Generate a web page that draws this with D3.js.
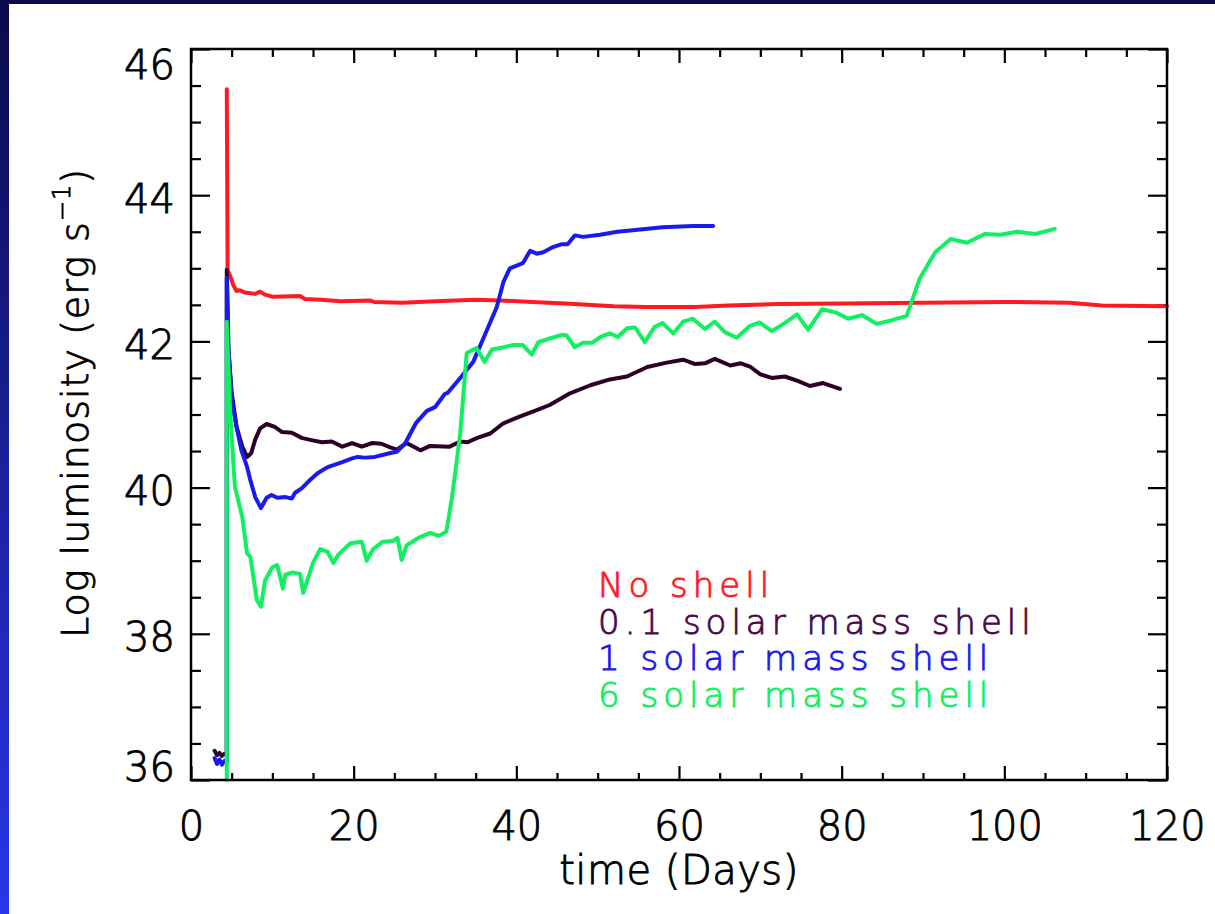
<!DOCTYPE html>
<html>
<head>
<meta charset="utf-8">
<script src="https://cdn.jsdelivr.net/npm/d3@7"></script>
<style>
  html, body { margin: 0; padding: 0; background: #fff; }
  svg { display: block; }
  text { font-family: "DejaVu Sans", "Liberation Sans", sans-serif; font-weight: 200; }
</style>
</head>
<body>
<svg id="chart" width="1215" height="914"></svg>
<script>
// ---- Light curves: time (days) and log luminosity (erg/s) ----
const noShellDays = [4.4, 4.5, 4.9, 5.2, 5.6, 6.0, 6.6, 7.9, 8.5, 9.1, 10.1, 13.4, 14.0, 16, 18.4, 22, 22.5, 26, 30, 35, 38, 42, 46, 52, 56, 62, 66, 72, 80, 90, 100, 108, 112, 120];
const noShellLum  = [45.45, 42.98, 42.87, 42.77, 42.69, 42.70, 42.67, 42.65, 42.68, 42.64, 42.61, 42.62, 42.58, 42.57, 42.55, 42.56, 42.54, 42.53, 42.55, 42.57, 42.56, 42.54, 42.52, 42.48, 42.47, 42.47, 42.49, 42.51, 42.52, 42.53, 42.54, 42.53, 42.49, 42.48];

const shell01Days = [2.9, 3.2, 3.5, 3.8, 4.1, 4.4, 4.4, 4.6, 5.0, 5.6, 6.3, 6.9, 7.4, 7.9, 8.5, 9.3, 10.3, 11.2, 12.4, 13.6, 14.8, 16.1, 17.3, 18.6, 19.8, 21.0, 22.3, 23.4, 24.5, 25.3, 26.5, 28.2, 29.4, 31.8, 33.1, 34.0, 35.2, 36.8, 38.4, 40.4, 42.5, 44.1, 46.6, 49.1, 51.5, 53.6, 56.1, 58.5, 60.5, 62.0, 63.2, 64.4, 66.3, 67.6, 68.8, 70.0, 71.4, 73.0, 74.6, 76.1, 77.7, 79.8];
const shell01Lum  = [36.40, 36.34, 36.37, 36.33, 36.36, 36.35, 42.98, 41.90, 41.30, 40.83, 40.56, 40.42, 40.47, 40.66, 40.81, 40.87, 40.83, 40.76, 40.75, 40.68, 40.65, 40.62, 40.63, 40.56, 40.61, 40.56, 40.61, 40.60, 40.55, 40.52, 40.61, 40.51, 40.57, 40.56, 40.63, 40.62, 40.68, 40.74, 40.88, 40.97, 41.06, 41.13, 41.29, 41.40, 41.48, 41.52, 41.65, 41.71, 41.75, 41.69, 41.70, 41.76, 41.67, 41.70, 41.65, 41.55, 41.50, 41.52, 41.46, 41.39, 41.43, 41.35];

const shell1Days = [2.9, 3.2, 3.5, 3.8, 4.1, 4.4, 4.4, 4.6, 5.0, 5.6, 6.2, 6.9, 7.3, 7.9, 8.6, 9.3, 9.9, 10.6, 11.6, 12.4, 12.8, 13.6, 14.6, 15.6, 16.8, 18.6, 19.8, 20.5, 21.4, 22.6, 24.4, 25.3, 26.3, 27.7, 29.0, 30.0, 31.2, 31.6, 33.1, 34.7, 36.4, 37.6, 38.4, 39.2, 40.8, 41.7, 42.5, 43.3, 44.5, 45.6, 46.3, 47.2, 48.2, 50.3, 52.4, 54.3, 58.0, 61.7, 64.2];
const shell1Lum  = [36.30, 36.22, 36.28, 36.21, 36.26, 36.25, 42.87, 41.90, 41.20, 40.83, 40.51, 40.28, 40.10, 39.87, 39.72, 39.86, 39.90, 39.86, 39.87, 39.85, 39.93, 39.99, 40.10, 40.20, 40.28, 40.35, 40.40, 40.42, 40.41, 40.42, 40.47, 40.49, 40.60, 40.89, 41.05, 41.10, 41.28, 41.30, 41.50, 41.72, 42.16, 42.47, 42.81, 43.00, 43.07, 43.24, 43.20, 43.22, 43.29, 43.33, 43.33, 43.45, 43.43, 43.46, 43.50, 43.52, 43.56, 43.58, 43.58];

const shell6Days = [4.4, 4.4, 4.8, 5.4, 6.3, 6.9, 7.3, 8.1, 8.6, 9.1, 10.0, 10.6, 11.3, 11.6, 12.5, 13.4, 13.8, 15.0, 15.9, 16.8, 17.5, 18.1, 19.6, 21.0, 21.6, 22.4, 23.6, 24.8, 25.4, 25.9, 26.5, 28.1, 29.4, 30.5, 31.4, 32.1, 33.1, 33.9, 35.1, 36.1, 37.0, 38.0, 39.6, 40.8, 41.9, 42.7, 44.1, 45.6, 46.2, 47.2, 48.2, 49.3, 50.5, 51.5, 52.5, 53.6, 54.6, 55.8, 57.0, 58.0, 59.3, 60.5, 61.7, 63.2, 64.4, 65.6, 67.1, 68.7, 69.9, 71.4, 73.0, 74.5, 75.9, 77.6, 79.4, 80.8, 82.5, 84.3, 86.2, 88.0, 89.6, 91.5, 93.4, 95.4, 97.6, 99.5, 101.6, 103.8, 106.2];
const shell6Lum  = [36.00, 42.27, 41.06, 40.01, 39.60, 39.10, 39.05, 38.46, 38.37, 38.73, 38.91, 38.94, 38.62, 38.81, 38.84, 38.82, 38.56, 38.97, 39.16, 39.12, 38.97, 39.08, 39.24, 39.26, 39.00, 39.16, 39.26, 39.27, 39.31, 39.01, 39.21, 39.32, 39.38, 39.34, 39.40, 39.87, 40.74, 41.84, 41.91, 41.72, 41.89, 41.91, 41.95, 41.95, 41.82, 41.99, 42.04, 42.09, 42.08, 41.92, 41.98, 41.98, 42.07, 42.11, 42.06, 42.18, 42.19, 41.99, 42.20, 42.25, 42.11, 42.27, 42.31, 42.17, 42.27, 42.13, 42.05, 42.21, 42.26, 42.14, 42.25, 42.37, 42.16, 42.44, 42.39, 42.31, 42.36, 42.24, 42.29, 42.35, 42.86, 43.22, 43.40, 43.35, 43.47, 43.46, 43.50, 43.47, 43.54];

const seriesNames  = ["No shell", "0.1 solar mass shell", "1 solar mass shell", "6 solar mass shell"];
const seriesColors = ["#ff1a22", "#2d0026", "#1a1af0", "#10f060"];
const labelColors  = ["#ff1a22", "#4a0a4a", "#1a1af0", "#10f060"];

const xTickLabels = [0, 20, 40, 60, 80, 100, 120];
const yTickLabels = [36, 38, 40, 42, 44, 46];

// ---- Layout ----
const svg = d3.select("#chart");
const W = 1215, H = 914;
const plotLeft = 191, plotRight = 1167, plotTop = 49, plotBottom = 780;

const x = d3.scaleLinear().domain([0, 120]).range([plotLeft, plotRight]);
const y = d3.scaleLinear().domain([36, 46]).range([plotBottom, plotTop]);

// slide frame: dark navy to blue strip along the top and left edge
const defs = svg.append("defs");
const grad = defs.append("linearGradient").attr("id", "frame").attr("x1", 0).attr("y1", 0).attr("x2", 0).attr("y2", 1);
grad.append("stop").attr("offset", "0%").attr("stop-color", "#0a0a4a");
grad.append("stop").attr("offset", "100%").attr("stop-color", "#2a36e8");
svg.append("rect").attr("width", W).attr("height", H).attr("fill", "url(#frame)");
svg.append("rect").attr("x", 9).attr("y", 4).attr("width", W - 9).attr("height", H - 4).attr("fill", "#fff");

// ---- Axes: major and minor ticks on all four sides, pointing inward ----
const xMinor = d3.range(0, 121, 5).filter(v => v % 20 !== 0);
const yMinor = d3.range(36, 46.01, 0.5).filter(v => Math.abs(v % 2) > 1e-6);

function tickGroup(axis, tx, ty) {
  const g = svg.append("g").attr("transform", `translate(${tx},${ty})`).call(axis);
  g.select(".domain").remove();
  g.selectAll("line").attr("stroke", "#000").attr("stroke-width", 2.2);
  return g;
}

// bottom
const gBottom = tickGroup(d3.axisBottom(x).tickValues(xTickLabels).tickSize(-14).tickPadding(32).tickFormat(d3.format("d")), 0, plotBottom);
tickGroup(d3.axisBottom(x).tickValues(xMinor).tickSize(-7).tickFormat(""), 0, plotBottom);
// top
tickGroup(d3.axisTop(x).tickValues(xTickLabels).tickSize(-14).tickFormat(""), 0, plotTop);
tickGroup(d3.axisTop(x).tickValues(xMinor).tickSize(-8).tickFormat(""), 0, plotTop);
// left
const gLeft = tickGroup(d3.axisLeft(y).tickValues(yTickLabels).tickSize(-19).tickPadding(16).tickFormat(d3.format("d")), plotLeft, 0);
tickGroup(d3.axisLeft(y).tickValues(yMinor).tickSize(-10).tickFormat(""), plotLeft, 0);
// right
tickGroup(d3.axisRight(y).tickValues(yTickLabels).tickSize(-19).tickFormat(""), plotRight, 0);
tickGroup(d3.axisRight(y).tickValues(yMinor).tickSize(-10).tickFormat(""), plotRight, 0);

// thin outline stroke gives the light face a slightly heavier line
function inkText(sel, color) {
  sel.attr("fill", color).attr("stroke", color).attr("stroke-width", 0.9);
}

gBottom.selectAll("text").attr("font-size", 40).style("font-family", "DejaVu Sans").call(inkText, "#000");
gLeft.selectAll("text").attr("font-size", 40).style("font-family", "DejaVu Sans").call(inkText, "#000")
  .attr("dy", null)
  .attr("y", d => d === 46 ? 29 : d === 36 ? 0 : 17);

// ---- Curves ----
const line = d3.line().x(d => x(d[0])).y(d => y(d[1]));
const curves = [
  d3.zip(noShellDays, noShellLum),
  d3.zip(shell01Days, shell01Lum),
  d3.zip(shell1Days, shell1Lum),
  d3.zip(shell6Days, shell6Lum)
];
const plot = svg.append("g");
// layering: red at the back, then purple, blue and green on top
[0, 1, 2, 3].forEach(i => {
  plot.append("path")
    .datum(curves[i])
    .attr("d", line)
    .attr("fill", "none")
    .attr("stroke", seriesColors[i])
    .attr("stroke-width", 4)
    .attr("stroke-linejoin", "round")
    .attr("stroke-linecap", "round");
});

// plot frame
svg.append("rect")
  .attr("x", plotLeft).attr("y", plotTop)
  .attr("width", plotRight - plotLeft).attr("height", plotBottom - plotTop)
  .attr("fill", "none").attr("stroke", "#000").attr("stroke-width", 2.5);

// ---- Legend ----
const legend = svg.append("g");
seriesNames.forEach((name, i) => {
  legend.append("text")
    .attr("x", 598).attr("y", 597 + i * 36.7)
    .attr("font-size", 34)
    .attr("letter-spacing", 5)
    .call(inkText, labelColors[i])
    .text(name);
});

// ---- Axis titles ----
svg.append("text")
  .attr("x", (plotLeft + plotRight) / 2).attr("y", 884)
  .attr("text-anchor", "middle")
  .attr("font-size", 40)
  .attr("letter-spacing", 0.5)
  .call(inkText, "#000")
  .text("time (Days)");

const yTitle = svg.append("text")
  .attr("transform", "translate(88,403) rotate(-90)")
  .attr("text-anchor", "middle")
  .attr("font-size", 38)
  .attr("letter-spacing", 1)
  .call(inkText, "#000");
yTitle.append("tspan").text("Log luminosity (erg s");
yTitle.append("tspan").attr("dy", -18).attr("font-size", 24).text("\u22121");
yTitle.append("tspan").attr("dy", 18).text(")");
</script>
</body>
</html>
